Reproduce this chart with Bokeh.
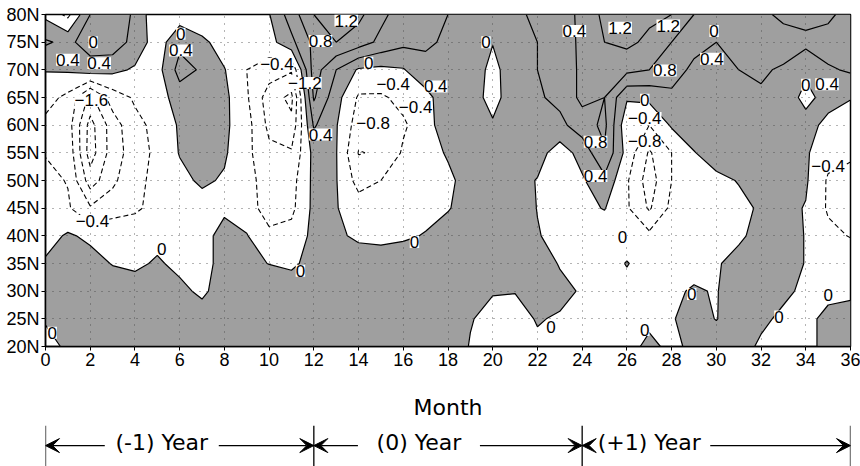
import numpy as np
from bokeh.plotting import figure
from bokeh.models import Range1d, FixedTicker, ColumnDataSource, LabelSet, Arrow, VeeHead
from bokeh.layouts import column
from bokeh.embed import file_html
from bokeh.resources import INLINE
from bokeh.core.properties import value

# ---------------- data ----------------
months = list(range(0, 37))
lats = [20, 25, 30, 35, 40, 45, 50, 55, 60, 65, 70, 75, 80]

lat20 = [-0.1, 0.05, 0.2, 0.2, 0.2, 0.2, 0.2, 0.2, 0.25, 0.25, 0.25, 0.25, 0.25, 0.2, 0.2, 0.2, 0.2, 0.2, 0.2, -0.02, -0.15, -0.15, -0.05, -0.1, -0.15, -0.2, -0.15, 0.1, -0.1, 0.1, 0.15, 0.1, -0.04, -0.1, -0.05, 0.05, 0.1]
lat25 = [0.03, 0.2, 0.25, 0.25, 0.25, 0.25, 0.25, 0.2, 0.25, 0.3, 0.3, 0.3, 0.3, 0.25, 0.3, 0.3, 0.3, 0.25, 0.15, 0.02, -0.1, -0.1, 0.02, -0.03, -0.15, -0.2, -0.2, -0.1, -0.02, 0.1, -0.01, 0.15, 0.05, -0.05, -0.05, 0.05, 0.1]
lat30 = [0.2, 0.3, 0.3, 0.25, 0.2, 0.2, 0.1, -0.08, 0.2, 0.3, 0.3, 0.25, 0.3, 0.3, 0.3, 0.3, 0.3, 0.25, 0.15, 0.03, 0.02, 0.01, 0.02, 0.08, -0.03, -0.15, -0.2, -0.15, -0.05, 0.03, -0.02, 0.2, 0.2, 0.05, -0.05, -0.05, -0.05]
lat35 = [0.05, 0.2, 0.15, -0.02, -0.08, 0.05, -0.1, -0.15, 0.15, 0.1, -0.01, -0.08, 0.15, 0.2, 0.15, 0.2, 0.2, 0.2, 0.2, 0.2, 0.2, 0.15, 0.15, -0.02, -0.15, -0.25, 0.03, -0.25, -0.2, -0.1, -0.03, 0.1, 0.15, 0.1, -0.01, -0.1, -0.15]
lat40 = [-0.15, 0.05, -0.08, -0.15, -0.2, -0.12, -0.15, -0.1, 0.1, 0.02, -0.3, -0.25, 0.1, 0.05, -0.05, -0.1, -0.05, 0.02, 0.2, 0.3, 0.3, 0.25, 0.02, -0.1, -0.2, -0.25, -0.3, -0.3, -0.3, -0.2, -0.1, -0.05, 0.1, 0.1, -0.01, -0.3, -0.42]
lat45 = [-0.25, -0.35, -0.75, -0.55, -0.45, -0.3, -0.2, -0.15, -0.05, -0.2, -0.6, -0.5, 0.1, 0.02, -0.2, -0.3, -0.2, -0.1, -0.03, 0.2, 0.3, 0.2, -0.01, -0.2, -0.1, 0.02, -0.35, -0.85, -0.3, -0.2, -0.15, -0.1, 0.05, 0.1, -0.02, -0.45, -0.5]
lat50 = [-0.3, -0.42, -1.4, -0.9, -0.45, -0.35, -0.1, 0.06, -0.04, -0.25, -0.6, -0.55, 0.1, 0.02, -0.55, -0.4, -0.25, -0.15, -0.1, 0.2, 0.25, 0.15, -0.02, -0.3, -0.05, 0.3, -0.35, -1.0, -0.4, -0.25, -0.1, 0.02, 0.3, 0.3, 0.05, -0.45, -0.5]
lat55 = [-0.42, -0.5, -1.8, -1.0, -0.6, -0.3, 0.02, 0.35, 0.05, -0.3, -0.7, -0.75, 0.12, 0.02, -0.82, -0.75, -0.35, -0.2, 0.05, 0.25, 0.2, 0.25, 0.16, -0.2, 0.15, 0.75, -0.15, -0.85, -0.4, -0.02, 0.2, 0.25, 0.3, 0.3, 0.05, -0.25, -0.35]
lat60 = [-0.5, -0.6, -1.75, -1.0, -0.5, -0.3, 0.05, 0.35, 0.08, -0.25, -0.9, -1.1, 0.45, 0.03, -0.6, -0.5, -0.45, -0.2, 0.3, 0.25, 0.05, 0.3, 0.35, 0.3, 0.6, 0.9, -0.3, -0.4, 0.05, 0.25, 0.3, 0.3, 0.3, 0.3, 0.2, -0.15, -0.2]
lat65 = [-0.25, -0.5, -1.3, -0.6, -0.35, -0.2, 0.2, 0.35, 0.1, -0.35, -1.0, -1.3, 0.85, 0.15, -0.45, -0.45, -0.3, -0.15, 0.3, 0.2, -0.15, 0.25, 0.35, 0.5, 0.9, 0.8, 0.05, 0.1, 0.3, 0.3, 0.3, 0.35, 0.35, 0.3, -0.15, 0.2, 0.02]
lat70 = [0.02, 0.05, 0.2, 0.1, -0.05, -0.15, 0.55, 0.35, 0.02, -0.4, -0.6, -0.75, 1.0, 0.4, -0.05, -0.1, -0.03, 0.3, 0.38, 0.3, -0.15, 0.3, 0.4, 0.5, 0.9, 1.0, 0.9, 0.8, 0.6, 0.3, 0.35, 0.4, 0.45, 0.35, 0.1, 0.35, 0.45]
lat75 = [0.45, 0.3, 0.6, 0.65, 0.25, -0.2, 0.3, 0.1, -0.2, -0.3, -0.15, 0.3, 0.9, 1.2, 1.0, 0.7, 0.5, 0.45, 0.35, 0.1, 0.02, 0.3, 0.4, 0.55, 0.9, 1.2, 1.3, 1.1, 0.8, 0.55, 0.4, 0.45, 0.6, 0.6, 0.5, 0.6, 0.5]
lat80 = [-0.1, -0.5, 0.4, 0.8, 0.3, -0.3, -0.2, -0.35, -0.4, -0.2, -0.02, 0.6, 1.2, 1.55, 1.3, 0.9, 0.6, 0.45, 0.4, 0.2, 0.15, 0.35, 0.45, 0.6, 0.9, 1.3, 1.4, 1.3, 1.2, 0.8, 0.45, 0.5, 0.7, 0.9, 1.2, 0.9, 0.6]

neg_levels = [-1.6, -1.2, -0.8, -0.4]
pos_levels = [0.0, 0.4, 0.8, 1.2, 1.6]

x_ticks = list(range(0, 37, 2))
y_ticks = list(range(20, 81, 5))
y_tick_labels = [f"{t}N" for t in y_ticks]

label_text = ["0.4", "0", "0.4", "\u22121.6", "\u22120.4", "0", "0", "0.4", "\u22120.4", "\u22121.2",
              "0.8", "1.2", "0", "\u22120.4", "\u22120.4", "0.4", "\u22120.8", "0.4", "0", "0",
              "0", "0.4", "1.2", "1.2", "0", "0.4", "0.8", "0", "\u22120.4", "\u22120.8",
              "0.8", "0.4", "0", "0.4", "\u22120.4", "0", "0", "0", "0", "0", "0", "0"]
label_month = [1.0, 2.13, 2.4, 2.05, 2.1, 5.2, 6.05, 6.05, 10.35, 11.6,
               12.3, 13.45, 14.45, 15.55, 16.55, 17.45, 14.65, 12.3, 11.4, 16.5,
               19.7, 23.65, 25.7, 27.85, 29.9, 29.8, 27.7, 26.8, 26.8, 26.8,
               24.6, 24.6, 34.0, 34.95, 35.0, 25.8, 28.9, 22.6, 26.8, 32.8, 35.0, 0.3]
label_lat = [71.8, 75.0, 71.2, 64.5, 42.7, 37.6, 76.5, 73.5, 71.1, 67.6,
             75.2, 78.9, 71.3, 67.5, 63.2, 67.0, 60.4, 58.3, 33.7, 38.9,
             75.0, 77.0, 77.6, 78.0, 77.0, 72.0, 69.9, 64.6, 61.3, 57.1,
             57.0, 50.8, 67.3, 67.4, 52.7, 39.7, 29.5, 23.6, 23.0, 25.4, 29.3, 22.5]

year_names = ["(-1) Year", "(0) Year", "(+1) Year"]
year_edges = [0, 12, 24, 36]

# ---------------- layout constants ----------------
W, H_MAIN, H_BRACKET = 860, 425, 41
LEFT, RIGHT, TOP, BOTTOM = 45, 10, 14, 79
GRAY = "#9f9f9f"
TICK_FONT = "Liberation Sans"
year_text_center = [5.2, 16.7, 27.0]   # text positions in the bracket row (months)
year_text_half_px = [48, 52, 52]
GAP_PX = 9

field = np.array([lat20, lat25, lat30, lat35, lat40, lat45, lat50,
                  lat55, lat60, lat65, lat70, lat75, lat80])

p = figure(width=W, height=H_MAIN, x_range=Range1d(0, 36), y_range=Range1d(20, 80),
           output_backend="svg", toolbar_location=None,
           min_border_left=LEFT, min_border_right=RIGHT,
           min_border_top=TOP, min_border_bottom=BOTTOM)
p.background_fill_color = "white"
p.border_fill_color = "white"

# shaded positive region
p.contour(months, lats, field, levels=[0.0, 3.0], fill_color=GRAY, line_color=None)
# dashed negative contours
p.contour(months, lats, field, levels=neg_levels, fill_color=None,
          line_color="black", line_width=1.1, line_dash="5 3")
# solid zero / positive contours
p.contour(months, lats, field, levels=pos_levels, fill_color=None,
          line_color="black", line_width=1.2)

# grid of dots
p.xgrid.ticker = FixedTicker(ticks=x_ticks)
p.ygrid.ticker = FixedTicker(ticks=y_ticks)
p.grid.grid_line_color = "#444444"
p.grid.grid_line_alpha = 0.8
p.grid.grid_line_dash = "1 6"
p.grid.grid_line_width = 1
p.grid.level = "guide"

# axes
p.xaxis.ticker = FixedTicker(ticks=x_ticks)
p.yaxis.ticker = FixedTicker(ticks=y_ticks)
p.yaxis.major_label_overrides = {t: s for t, s in zip(y_ticks, y_tick_labels)}
for ax in (p.xaxis[0], p.yaxis[0]):
    ax.major_label_text_font = TICK_FONT
    ax.major_label_text_font_size = "18px"
    ax.major_label_text_color = "black"
    ax.axis_line_color = "black"
    ax.axis_line_width = 1.5
    ax.major_tick_line_color = "black"
    ax.major_tick_out = 4
    ax.major_tick_in = 0
    ax.minor_tick_line_color = None
    ax.major_label_standoff = 2
p.xaxis.axis_label = "Month"
p.xaxis.axis_label_text_font = "DejaVu Sans"
p.xaxis.axis_label_text_font_style = "normal"
p.xaxis.axis_label_text_font_size = "22px"
p.xaxis.axis_label_text_color = "black"
p.xaxis.axis_label_standoff = 26
p.outline_line_color = "black"
p.outline_line_width = 1.5

# contour labels
lab_src = ColumnDataSource(dict(x=label_month, y=label_lat, text=label_text))
p.add_layout(LabelSet(x="x", y="y", text="text", source=lab_src,
                      text_align="center", text_baseline="middle",
                      text_font=value(TICK_FONT), text_font_size="17px",
                      text_color="black", background_fill_color="white"))

# ---------------- bracket row (frame aligned with the main plot) ----------------
p2 = figure(width=W, height=H_BRACKET, x_range=Range1d(0, 36), y_range=Range1d(0, 1),
            output_backend="svg", toolbar_location=None,
            x_axis_location=None, y_axis_location=None,
            min_border_left=LEFT, min_border_right=RIGHT,
            min_border_top=0, min_border_bottom=0)
p2.grid.visible = False
p2.outline_line_color = None
p2.background_fill_color = "white"
p2.border_fill_color = "white"

ppm = (W - LEFT - RIGHT) / 36.0
line_y = 0.51
text_y = 0.585

for e in year_edges:
    p2.add_layout(Arrow(x_start=e, y_start=0.0, x_end=e, y_end=1.0,
                        line_color="black", line_width=1.3, end=None))

for i, name in enumerate(year_names):
    a, b = year_edges[i], year_edges[i + 1]
    c = year_text_center[i]
    hw = (year_text_half_px[i] + GAP_PX) / ppm
    p2.add_layout(Arrow(x_start=c - hw, y_start=line_y, x_end=a, y_end=line_y,
                        line_color="black", line_width=1.2,
                        end=VeeHead(size=14, fill_color="black", line_color="black")))
    p2.add_layout(Arrow(x_start=c + hw, y_start=line_y, x_end=b, y_end=line_y,
                        line_color="black", line_width=1.2,
                        end=VeeHead(size=14, fill_color="black", line_color="black")))

p2.text(x=year_text_center, y=[text_y] * 3, text=year_names, text_align="center",
        text_baseline="middle", text_font=value("DejaVu Sans"),
        text_font_size="22px", text_color="black")

layout = column(p, p2)
open("out.html", "w").write(file_html(layout, INLINE))
